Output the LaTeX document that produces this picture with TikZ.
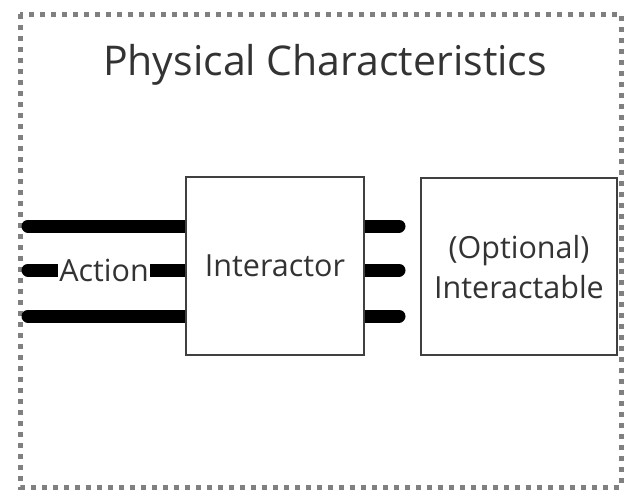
\documentclass[tikz,border=0pt]{standalone}
\usepackage{fontspec}
\setmainfont{Open Sans}
\begin{document}
\begin{tikzpicture}[x=1pt,y=-1pt,
  frame/.style={draw=black!50, line width=5pt, dash pattern=on 5pt off 6pt},
  block/.style={draw=black!75, line width=1.2pt, fill=white},
  wire/.style={line width=13pt, line cap=round, black},
  label/.style={text=black!80, font=\fontsize{30.5}{40}\selectfont}]
\useasboundingbox (0,0) rectangle (631,496);
% dotted outer frame
\draw[frame] (20,14) rectangle (621,487);
\node[label, font=\fontsize{41}{48}\selectfont] (title) at (325,65) {Physical Characteristics};
% input wires
\coordinate (in1) at (28,226);
\coordinate (in2) at (28,270);
\coordinate (in3) at (28,316);
\draw[wire] (in1) -- (190,226);
\draw[wire] (in3) -- (190,316);
\draw[wire] (in2) -- (190,270);
\node[label, fill=white, inner sep=1pt] (action) at (104,270) {Action};
% output wires
\coordinate (out1) at (399,226);
\coordinate (out2) at (399,270);
\coordinate (out3) at (399,316);
\draw[wire] (360,226) -- (out1);
\draw[wire] (360,270) -- (out2);
\draw[wire] (360,316) -- (out3);
% blocks drawn over the wire ends
\draw[block] (186,177) rectangle (364,355);
\node[label] (inter) at (275,266) {Interactor};
\draw[block] (421,178) rectangle (617,355);
\node[label, align=center] (opt) at (519,267) {(Optional)\\Interactable};
\end{tikzpicture}
\end{document}
